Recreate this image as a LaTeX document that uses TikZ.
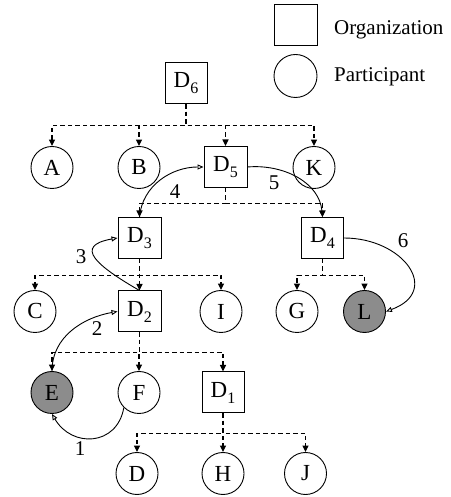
\documentclass[tikz,border=0pt]{standalone}
\usepackage{fontspec}
\setmainfont{Liberation Serif}
\usetikzlibrary{arrows.meta}
% lowered digit used for the organization indices
\newcommand{\lowsub}[1]{\raisebox{-6pt}{\fontsize{16}{16}\selectfont #1}}

\begin{document}
\begin{tikzpicture}[x=1pt,y=1pt,
  org/.style={draw, line width=1pt, minimum width=42pt, minimum height=41pt,
    inner sep=0pt, font=\fontsize{23}{23}\selectfont},
  part/.style={draw, circle, line width=0.9pt, minimum size=42pt, inner sep=0pt,
    font=\fontsize{23}{23}\selectfont},
  shaded/.style={fill=black!45},
  tree/.style={line width=1.1pt, dash pattern=on 4.5pt off 3pt,
    -{Triangle[length=6.5pt,width=6pt]}},
  flow/.style={line width=0.9pt, -{Triangle[open,length=6pt,width=5pt]}},
  num/.style={font=\fontsize{21}{21}\selectfont, inner sep=0pt},
  legend/.style={font=\fontsize{21}{21}\selectfont, anchor=base west, inner sep=0pt}
]
\useasboundingbox (0,0) rectangle (450,497);

% legend
\node[org, minimum width=43pt] (lorg) at (295.5,471.5) {};
\node[part, minimum size=43pt] (lpart) at (295.5,421) {};
\node[legend] (torg) at (334,462) {Organization};
\node[legend] (tpart) at (334,415) {Participant};

% organizations and participants
\node[org] (D6) at (186,413.5) {D\lowsub{6}};

\node[part] (A) at (52,329.5) {A};
\node[part] (B) at (139,329.5) {B};
\node[org, minimum width=43pt] (D5) at (225.5,330) {D\lowsub{5}};
\node[part] (K) at (314,329.5) {K};

\node[org, minimum width=43pt] (D3) at (139.5,259) {D\lowsub{3}};
\node[org] (D4) at (322.5,259) {D\lowsub{4}};

\node[part] (C) at (35,185.5) {C};
\node[org, minimum width=43pt] (D2) at (139.5,185.5) {D\lowsub{2}};
\node[part] (I) at (221,185.5) {I};
\node[part] (G) at (297,185.5) {G};
\node[part, shaded] (L) at (364.5,185.5) {L};

\node[part, shaded] (E) at (52,104.5) {E};
\node[part] (F) at (139,104.5) {F};
\node[org] (D1) at (223,104.5) {D\lowsub{1}};

\node[part] (D) at (137,23.5) {D};
\node[part] (H) at (223,23.5) {H};
\node[part] (J) at (305.5,23.5) {J};

% membership tree (dashed)
\foreach \c in {A,B,D5,K} \draw[tree] (D6.south) -- ++(0,-21) -| (\c.north);
\foreach \c in {D3,D4} \draw[tree] (D5.south) -- ++(0,-15.5) -| (\c.north);
\foreach \c in {C,D2,I} \draw[tree] (D3.south) -- ++(0,-16.5) -| (\c.north);
\foreach \c in {G,L} \draw[tree] (D4.south) -- ++(0,-16.5) -| (\c.north);
\foreach \c in {E,F,D1} \draw[tree] (D2.south) -- ++(0,-20) -| (\c.north);
\foreach \c in {D,H,J} \draw[tree] (D1.south) -- ++(0,-20) -| (\c.north);

% numbered flow
\draw[flow] (F.225) to[out=-100,in=-60,looseness=1.4] (E.south);
\draw[flow] (E.north) to[out=90,in=190] (D2.west);
\draw[flow] (D2.north) .. controls +(150:50) and +(190:45) .. (D3.west);
\draw[flow] (D3.north) to[out=85,in=180] (D5.west);
\draw[flow] (D5.east) to[out=5,in=95] (D4.north);
\draw[flow] (D4.east) to[out=0,in=20,looseness=1.8] (L.east);

\node[num] (n1) at (80,48) {1};
\node[num] (n2) at (97,168) {2};
\node[num] (n3) at (81,240) {3};
\node[num] (n4) at (175,305) {4};
\node[num] (n5) at (274,314) {5};
\node[num] (n6) at (403,256) {6};
\end{tikzpicture}
\end{document}
